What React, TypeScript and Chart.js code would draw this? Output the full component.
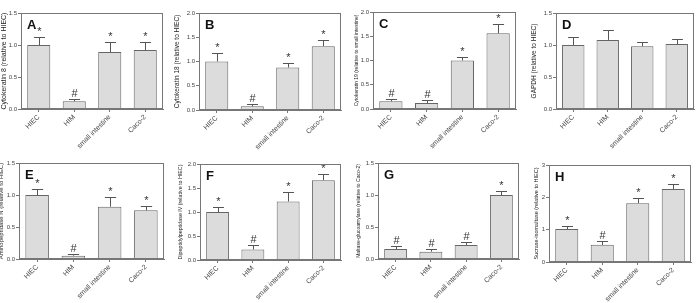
import React, { useEffect, useRef } from 'react';
import { Chart, registerables } from 'chart.js';

Chart.register(...registerables);

const FONT = 'Arial, "Liberation Sans", Helvetica, sans-serif';
Chart.defaults.font.family = FONT;

const categories = ['HIEC', 'HIM', 'small intestine', 'Caco-2'];

// Cytokeratin 8 (relative to HIEC)
const ck8Mean = [1.0, 0.12, 0.89, 0.92];
const ck8Sem = [0.13, 0.04, 0.155, 0.13];
const ck8Sig = ['*', '#', '*', '*'];

// Cytokeratin 18 (relative to HIEC)
const ck18Mean = [1.0, 0.076, 0.876, 1.317];
const ck18Sem = [0.18, 0.044, 0.09, 0.125];
const ck18Sig = ['*', '#', '*', '*'];

// Cytokeratin 19 (relative to small intestine)
const ck19Mean = [0.158, 0.124, 1.0, 1.56];
const ck19Sem = [0.048, 0.062, 0.07, 0.185];
const ck19Sig = ['#', '#', '*', '*'];

// GAPDH (relative to HIEC)
const gapdhMean = [1.0, 1.08, 0.98, 1.016];
const gapdhSem = [0.125, 0.16, 0.07, 0.074];
const gapdhSig = ['', '', '', ''];

// Aminopeptidase N (relative to HIEC)
const apnMean = [1.0, 0.052, 0.818, 0.76];
const apnSem = [0.094, 0.026, 0.152, 0.073];
const apnSig = ['*', '#', '*', '*'];

// Dipeptidylpeptidase IV (relative to HIEC)
const dppMean = [1.0, 0.22, 1.22, 1.66];
const dppSem = [0.11, 0.097, 0.2, 0.126];
const dppSig = ['*', '#', '*', '*'];

// Maltase-glucoamylase (relative to Caco-2)
const mgamMean = [0.156, 0.115, 0.22, 1.0];
const mgamSem = [0.042, 0.041, 0.05, 0.07];
const mgamSig = ['#', '#', '#', '*'];

// Sucrase-isomaltase (relative to HIEC)
const sucMean = [1.02, 0.53, 1.82, 2.26];
const sucSem = [0.105, 0.115, 0.165, 0.145];
const sucSig = ['*', '#', '*', '*'];

const panelLetters = ['A', 'B', 'C', 'D', 'E', 'F', 'G', 'H'];
const axisTitles = [
  'Cytokeratin 8 (relative to HIEC)',
  'Cytokeratin 18 (relative to HIEC)',
  'Cytokeratin 19 (relative to small intestine)',
  'GAPDH (relative to HIEC)',
  'Aminopeptidase N (relative to HIEC)',
  'Dipeptidylpeptidase IV (relative to HIEC)',
  'Maltase-glucoamylase (relative to Caco-2)',
  'Sucrase-isomaltase (relative to HIEC)',
];
const axisMax = [1.5, 2.0, 2.0, 1.5, 1.5, 2.0, 1.5, 3];
const axisStep = [0.5, 0.5, 0.5, 0.5, 0.5, 0.5, 0.5, 1];
const axisDecimals = [1, 1, 1, 1, 1, 1, 1, 0];

const means = [ck8Mean, ck18Mean, ck19Mean, gapdhMean, apnMean, dppMean, mgamMean, sucMean];
const sems = [ck8Sem, ck18Sem, ck19Sem, gapdhSem, apnSem, dppSem, mgamSem, sucSem];
const sigs = [ck8Sig, ck18Sig, ck19Sig, gapdhSig, apnSig, dppSig, mgamSig, sucSig];

// Plot-area placement of each panel on the page (left, right, top, bottom),
// the x position of the rotated y-axis title and its font size.
const frames = [
  { l: 21, r: 163, t: 13, b: 109, tx: 4, ts: 7, rowEnd: 150 },
  { l: 199, r: 341, t: 13, b: 110, tx: 177, ts: 6.5, rowEnd: 150 },
  { l: 373, r: 516, t: 12, b: 109, tx: 357, ts: 5, rowEnd: 150 },
  { l: 556, r: 694, t: 13, b: 109, tx: 534, ts: 6.5, rowEnd: 150 },
  { l: 19, r: 164, t: 163, b: 259, tx: 2, ts: 6, rowEnd: 303 },
  { l: 200, r: 341, t: 164, b: 260, tx: 180, ts: 5.3, rowEnd: 303 },
  { l: 378, r: 519, t: 163, b: 259, tx: 359, ts: 5, rowEnd: 303 },
  { l: 549, r: 691, t: 165, b: 262, tx: 536, ts: 5.5, rowEnd: 303 },
];

const PAD_TOP = 10;
const PAD_RIGHT = 4;

function Panel({ idx }: { idx: number }) {
  const ref = useRef<HTMLCanvasElement | null>(null);
  const f = frames[idx];
  const left = Math.round(f.tx - 0.6 * f.ts);
  const top = f.t - PAD_TOP;
  const width = f.r + PAD_RIGHT - left;
  const height = f.rowEnd - top;
  const yW = f.l - left;
  const xH = f.rowEnd - f.b;

  useEffect(() => {
    if (!ref.current) return;
    const mean = means[idx];
    const sem = sems[idx];
    const sig = sigs[idx];
    const dec = axisDecimals[idx];

    const decorations = {
      id: 'decorations',
      afterDatasetsDraw(chart: any) {
        const { ctx, chartArea } = chart;
        const ys = chart.scales.y;
        const meta = chart.getDatasetMeta(0);
        ctx.save();
        ctx.strokeStyle = '#555';
        ctx.lineWidth = 1;
        mean.forEach((m: number, i: number) => {
          const bar = meta.data[i];
          const x = Math.round(bar.x) + 0.5;
          const yTop = ys.getPixelForValue(m);
          const yCap = Math.round(ys.getPixelForValue(m + sem[i])) + 0.5;
          const half = bar.width * 0.24;
          ctx.beginPath();
          ctx.moveTo(x, yTop);
          ctx.lineTo(x, yCap);
          ctx.moveTo(x - half, yCap);
          ctx.lineTo(x + half, yCap);
          ctx.stroke();
          if (sig[i]) {
            ctx.fillStyle = '#333';
            ctx.font = `11px ${FONT}`;
            ctx.textAlign = 'center';
            ctx.textBaseline = 'alphabetic';
            ctx.fillText(sig[i], x, yCap - 3);
          }
        });
        // frame around the plot area
        ctx.strokeStyle = '#777';
        ctx.strokeRect(
          Math.round(chartArea.left) + 0.5,
          Math.round(chartArea.top) + 0.5,
          Math.round(chartArea.right - chartArea.left) - 1,
          Math.round(chartArea.bottom - chartArea.top) - 1
        );
        // panel letter
        ctx.fillStyle = '#111';
        ctx.font = `bold 13px ${FONT}`;
        ctx.textAlign = 'left';
        ctx.textBaseline = 'alphabetic';
        ctx.fillText(panelLetters[idx], chartArea.left + 6, chartArea.top + 16);
        ctx.restore();
      },
    };

    const chart = new Chart(ref.current, {
      type: 'bar',
      data: {
        labels: categories,
        datasets: [
          {
            data: mean,
            backgroundColor: '#dcdcdc',
            borderColor: '#666',
            borderWidth: 1,
            barPercentage: 0.65,
            categoryPercentage: 1,
          },
        ],
      },
      options: {
        responsive: false,
        animation: false,
        devicePixelRatio: 1,
        events: [],
        layout: { padding: { left: 0, top: PAD_TOP, right: PAD_RIGHT, bottom: 0 } },
        plugins: { legend: { display: false }, tooltip: { enabled: false } },
        scales: {
          x: {
            offset: true,
            grid: { drawOnChartArea: false, offset: false, tickLength: 3, color: '#777' },
            border: { color: '#777' },
            ticks: {
              minRotation: 45,
              maxRotation: 45,
              autoSkip: false,
              padding: 1,
              color: '#444',
              font: { size: 7 },
            },
            afterFit: (s: any) => {
              s.height = xH;
            },
          },
          y: {
            min: 0,
            max: axisMax[idx],
            grid: { drawOnChartArea: false, tickLength: 3, color: '#777' },
            border: { color: '#777' },
            ticks: {
              stepSize: axisStep[idx],
              padding: 1,
              color: '#444',
              font: { size: 6 },
              callback: (v: any) => Number(v).toFixed(dec),
            },
            title: {
              display: true,
              text: axisTitles[idx],
              color: '#222',
              padding: 0,
              font: { size: f.ts },
            },
            afterFit: (s: any) => {
              s.width = yW;
            },
          },
        },
      },
      plugins: [decorations],
    } as any);
    return () => chart.destroy();
  }, [idx]);

  return (
    <canvas
      ref={ref}
      width={width}
      height={height}
      style={{ position: 'absolute', left, top, width, height }}
    />
  );
}

export default function App() {
  return (
    <div
      style={{
        position: 'fixed',
        left: 0,
        top: 0,
        width: 697,
        height: 303,
        background: '#fff',
        overflow: 'hidden',
      }}
    >
      {frames.map((_, i) => (
        <Panel key={i} idx={i} />
      ))}
    </div>
  );
}
